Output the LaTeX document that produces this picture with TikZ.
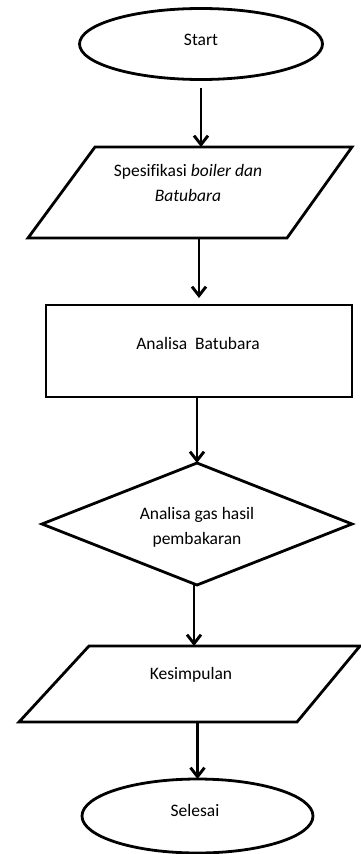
\documentclass[tikz,border=0pt]{standalone}
\usepackage{fontspec}
\setmainfont{Carlito}[Ligatures=CommonOff]
\usetikzlibrary{arrows.meta,shapes.geometric}
\begin{document}
\begin{tikzpicture}[x=1pt,y=-1pt,
  shapeline/.style={draw=black, line width=2.8pt, line join=miter},
  frame/.style={inner sep=0pt, outer sep=0pt, shape=rectangle},
  term/.style={shapeline, ellipse, inner sep=0pt, outer sep=0pt},
  txt/.style={font=\fontsize{17.5}{25}\selectfont, align=center, inner sep=0pt, text=black},
  flow/.style={line width=2.9pt, -{Straight Barb[length=9pt,width=14pt,line width=2.9pt]}}]
\useasboundingbox[fill=white] (0,0) rectangle (361,854);

% Start
\node[term, minimum width=243, minimum height=71] (start) at (201,44) {};
\node[txt] (starttxt) at (201,40) {Start};

% Spesifikasi parallelogram
\node[frame, minimum width=324, minimum height=91] (spec) at (190,192.5) {};
\draw[shapeline] ([xshift=67pt]spec.north west) -- (spec.north east)
  -- ([xshift=-65pt]spec.south east) -- (spec.south west) -- cycle;
\node[txt] (spectxt) at (188,182.5) {Spesifikasi \textit{boiler dan}\\\textit{Batubara}};

% Analisa Batubara
\node[frame, shapeline, minimum width=306, minimum height=92] (anal) at (199,351) {};
\node[txt] (analtxt) at (198,343) {Analisa~ Batubara};

% Diamond
\node[frame, minimum width=310, minimum height=122] (gas) at (197,524) {};
\draw[shapeline] (gas.north) -- (gas.east) -- (gas.south) -- (gas.west) -- cycle;
\node[txt] (gastxt) at (197,527) {Analisa gas hasil\\pembakaran};

% Kesimpulan parallelogram
\node[frame, minimum width=341, minimum height=76] (kes) at (189.5,684) {};
\draw[shapeline] ([xshift=70pt]kes.north west) -- (kes.north east)
  -- ([xshift=-63pt]kes.south east) -- (kes.south west) -- cycle;
\node[txt] (kestxt) at (191,675) {Kesimpulan};

% Selesai
\node[term, minimum width=231, minimum height=74] (end) at (197.5,816) {};
\node[txt] (endtxt) at (195,810) {Selesai};

% connectors
\draw[flow, shorten <=8pt] (start.south) -- (start.south |- spec.north);
\draw[flow, shorten >=7pt] (anal.north |- spec.south) -- (anal.north);
\draw[flow] (gas.north |- anal.south) -- (gas.north);
\draw[flow] ([xshift=-3pt]gas.south) -- ([xshift=-3pt]gas.south |- kes.north);
\draw[flow] (end.north |- kes.south) -- (end.north);
\end{tikzpicture}
\end{document}
